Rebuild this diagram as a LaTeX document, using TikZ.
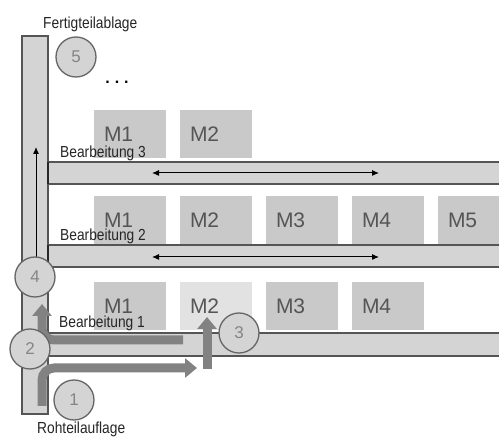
\documentclass[tikz,border=0pt]{standalone}
\usepackage{fontspec}
\setmainfont{Liberation Sans}
\newfontfamily\narrowfont[FakeStretch=0.86]{Liberation Sans}
\usetikzlibrary{arrows.meta}

\definecolor{railfill}{HTML}{D4D4D4}
\definecolor{railedge}{HTML}{555555}
\definecolor{machfill}{HTML}{C9C9C9}
\definecolor{machlight}{HTML}{E2E2E2}
\definecolor{machtext}{HTML}{555555}
\definecolor{pathgray}{HTML}{828282}
\definecolor{numgray}{HTML}{858585}
\definecolor{ringgray}{HTML}{666666}

\tikzset{
  rail/.style={fill=railfill, draw=railedge, line width=1.1pt},
  railend/.style={draw=black!85, line width=1.6pt},
  machine/.style={fill=machfill, draw=none, minimum height=48pt, text width=52pt,
    inner xsep=10pt, align=left, font=\fontsize{21}{21}\selectfont, text=machtext},
  lightmachine/.style={machine, fill=machlight},
  lbl/.style={font=\narrowfont\fontsize{16}{16}\selectfont, text=black!85, inner sep=0pt},
  flow/.style={draw=black, line width=1pt, {Latex[length=7pt,width=6pt]}-{Latex[length=7pt,width=6pt]}},
  upflow/.style={draw=black, line width=1pt, -{Latex[length=7pt,width=6pt]}},
  bigarrow/.style={draw=pathgray, line width=9pt, rounded corners=12pt,
    -{Triangle[length=12pt,width=19pt]}},
  station/.style={circle, fill=railfill, draw=ringgray, line width=1.3pt,
    minimum size=40pt, inner sep=0pt, font=\fontsize{17}{17}\selectfont, text=numgray},
}

\begin{document}
\begin{tikzpicture}[x=1pt, y=-1pt]
\useasboundingbox (0,0) rectangle (499,438);
\clip (0,0) rectangle (499,438);
\fill[white] (0,0) rectangle (499,438);

% vertical transfer bar and the three machining lines
\draw[rail] (22,36) rectangle (48,414);
\draw[rail] (48,162) rectangle (510,184);
\draw[rail] (48,245) rectangle (510,267);
\draw[rail] (48,333) rectangle (510,356);
\draw[railend] (48,162) -- (48,184);
\draw[railend] (48,245) -- (48,267);

% machines, line 3
\node[machine] (m31) at (130,134) {M1};
\node[machine] (m32) at (216,134) {M2};
% machines, line 2
\node[machine] (m21) at (130,220) {M1};
\node[machine] (m22) at (216,220) {M2};
\node[machine] (m23) at (302,220) {M3};
\node[machine] (m24) at (388,220) {M4};
\node[machine] (m25) at (474,220) {M5};
% machines, line 1
\node[machine] (m11) at (130,306) {M1};
\node[lightmachine] (m12) at (216,306) {M2};
\node[machine] (m13) at (302,306) {M3};
\node[machine] (m14) at (388,306) {M4};

% line labels
\node[lbl, anchor=base west] (b3) at (60,158) {Bearbeitung 3};
\node[lbl, anchor=base west] (b2) at (60,241) {Bearbeitung 2};
\node[lbl, anchor=base west] (b1) at (59,328) {Bearbeitung 1};
\node[lbl, anchor=base west] (top) at (43,29) {Fertigteilablage};
\node[lbl, anchor=base west] (bot) at (37,434) {Rohteilauflage};
\node[font=\bfseries\fontsize{16}{16}\selectfont, inner sep=0pt] (dots) at (117,82)
  {.\hspace{5pt}.\hspace{5pt}.};

% transport directions on the lines
\coordinate (r3a) at (152,173);
\coordinate (r3b) at (379,173);
\coordinate (r2a) at (152,257);
\coordinate (r2b) at (379,257);
\draw[flow] (r3a) -- (r3b);
\draw[flow] (r2a) -- (r2b);
\coordinate (up0) at (36,258);
\coordinate (up1) at (36,147);
\draw[upflow] (up0) -- (up1);

% part flow on line 1
\coordinate (a0) at (42,406);
\coordinate (a1) at (197,368);
\draw[bigarrow] (a0) -- (42,368) -- (a1);
\coordinate (b0) at (183,340);
\coordinate (b1) at (42,304);
\draw[bigarrow] (b0) -- (42,340) -- (b1);
\coordinate (c0) at (207,369);
\coordinate (c1) at (207,317);
\draw[bigarrow] (c0) -- (c1);

% stations
\node[station] (s1) at (74,400) {1};
\node[station] (s2) at (30,349) {2};
\node[station] (s3) at (239,333) {3};
\node[station] (s4) at (35,277) {4};
\node[station] (s5) at (76,57) {5};
\end{tikzpicture}
\end{document}
